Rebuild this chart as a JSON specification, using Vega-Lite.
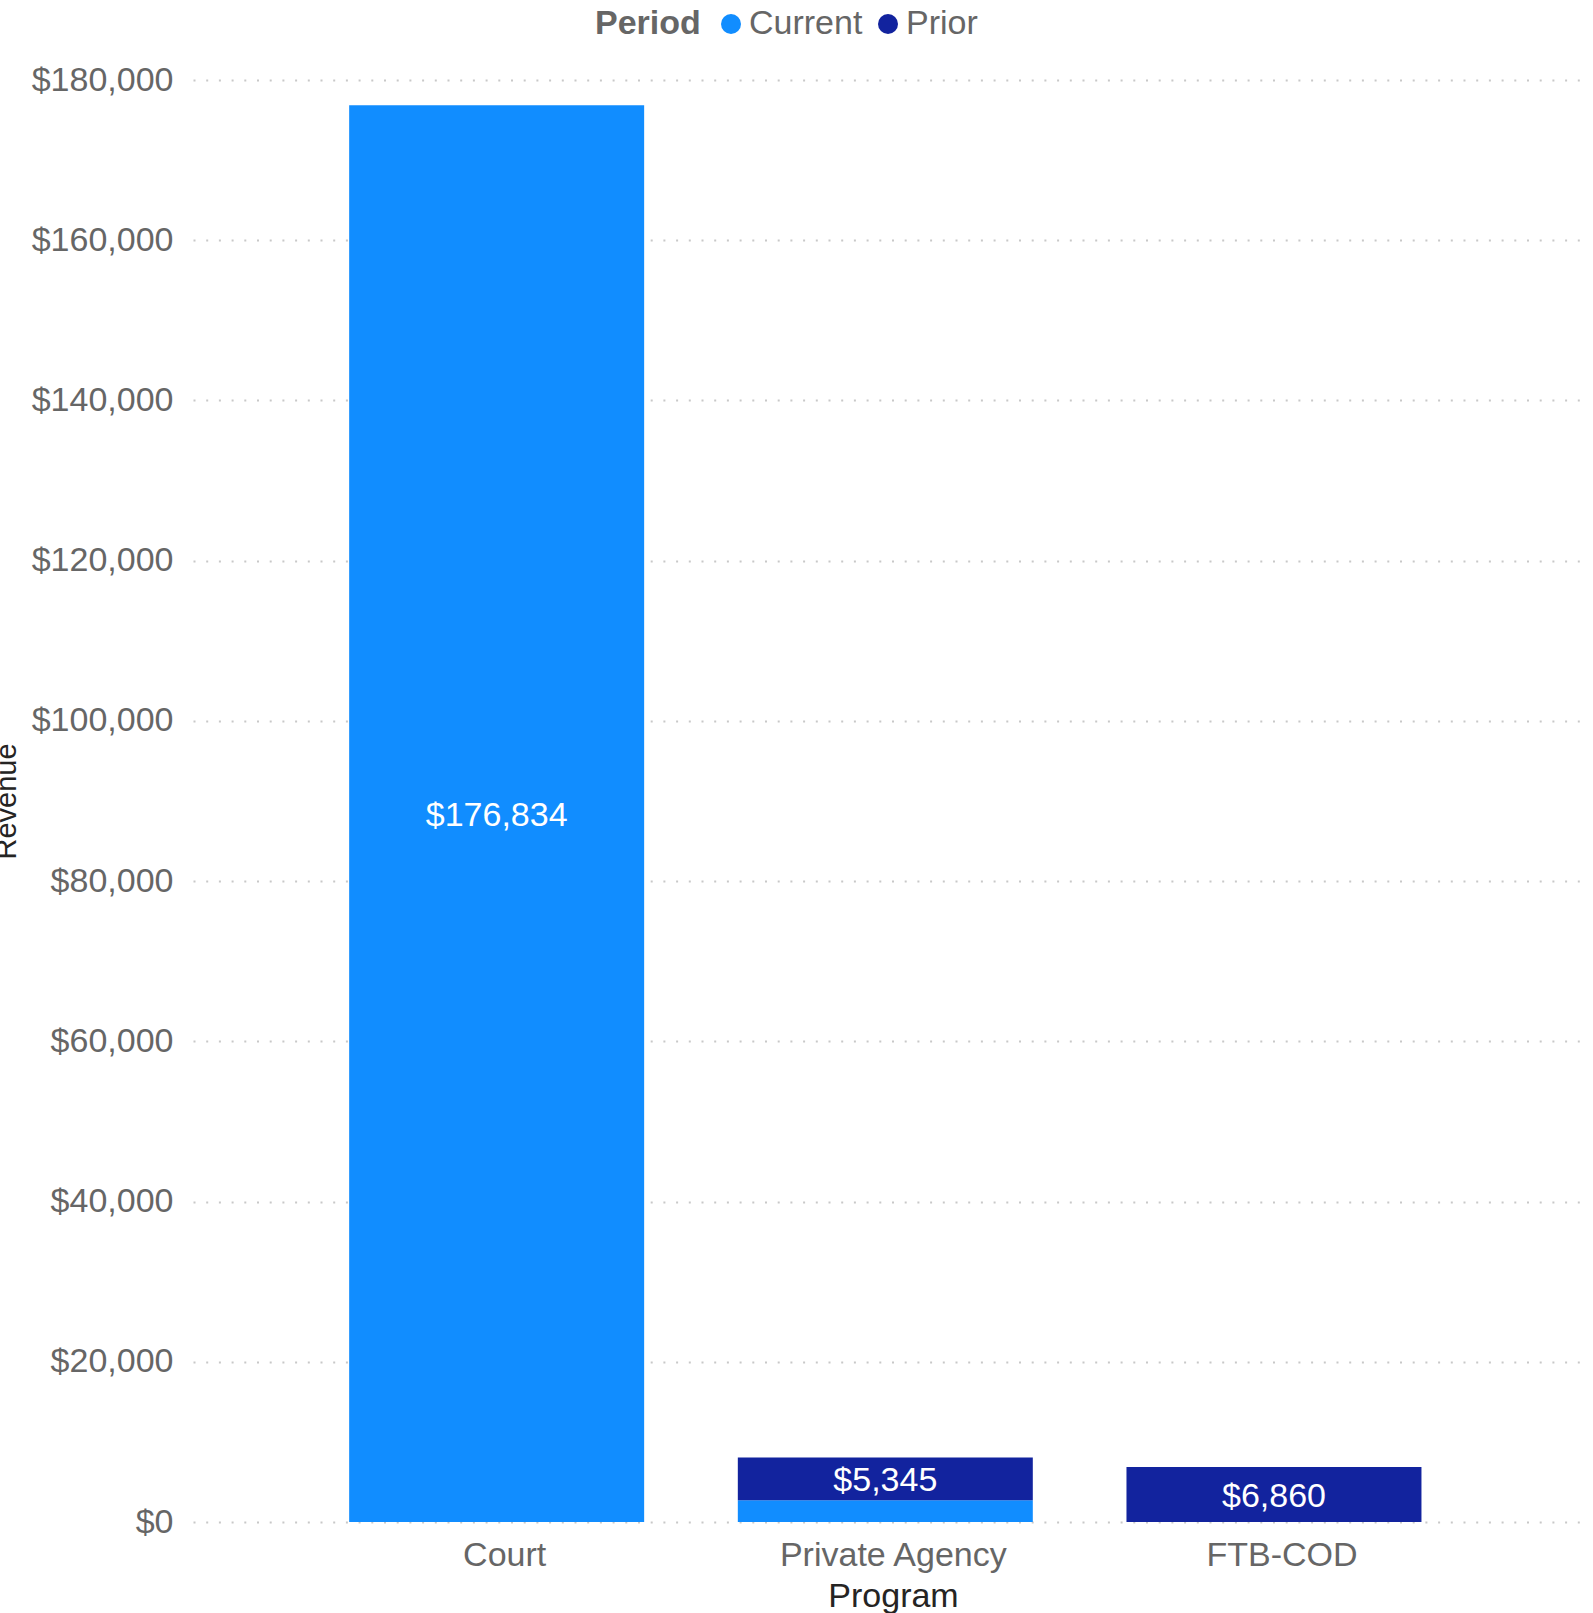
{
  "$schema": "https://vega.github.io/schema/vega-lite/v6.json",
  "autosize": {"type": "none"},
  "padding": {"left": 193, "top": 80, "right": 9, "bottom": 91},
  "width": 1391,
  "height": 1442,
  "background": "white",
  "config": {
    "view": {"stroke": null},
    "font": "Liberation Sans"
  },
  "data": {
    "values": [
      {"Program": "Court", "Period": "Current", "Revenue": 176834},
      {"Program": "Private Agency", "Period": "Current", "Revenue": 2710},
      {"Program": "Private Agency", "Period": "Prior", "Revenue": 5345},
      {"Program": "FTB-COD", "Period": "Prior", "Revenue": 6860}
    ]
  },
  "encoding": {
    "x": {
      "field": "Program",
      "type": "nominal",
      "sort": ["Court", "Private Agency", "FTB-COD"],
      "scale": {"paddingInner": 0.241, "paddingOuter": 0.41, "align": 0.49},
      "axis": {
        "title": "Program",
        "labelAngle": 0,
        "labelLimit": 0,
        "labelOffset": 8,
        "labelFont": "Liberation Sans",
        "labelFontSize": 34,
        "labelColor": "#666666",
        "labelPadding": 16,
        "ticks": false,
        "domain": false,
        "titleFont": "Liberation Sans",
        "titleFontSize": 34,
        "titleFontWeight": "normal",
        "titleColor": "#252423",
        "titleBaseline": "alphabetic",
        "titleAlign": "center",
        "titleX": 700,
        "titleY": 84
      }
    },
    "y": {
      "field": "Revenue",
      "type": "quantitative",
      "scale": {"domain": [0, 180000], "nice": false},
      "axis": {
        "title": "Revenue",
        "values": [0, 20000, 40000, 60000, 80000, 100000, 120000, 140000, 160000, 180000],
        "format": "$,.0f",
        "labelFont": "Liberation Sans",
        "labelFontSize": 34,
        "labelColor": "#666666",
        "labelPadding": 20,
        "ticks": false,
        "domain": false,
        "grid": true,
        "gridColor": "#C8C8C8",
        "gridDash": [2, 10.7],
        "gridWidth": 2,
        "titleFont": "Liberation Sans",
        "titleFontSize": 29,
        "titleFontWeight": "normal",
        "titleColor": "#252423",
        "titleAngle": -90,
        "titleAlign": "center",
        "titleBaseline": "alphabetic",
        "titleX": -178,
        "titleY": 721
      }
    },
    "order": {"field": "Period", "sort": "ascending"},
    "color": {
      "field": "Period",
      "type": "nominal",
      "scale": {"domain": ["Current", "Prior"], "range": ["#118DFF", "#12239E"]},
      "legend": {
        "orient": "none",
        "direction": "horizontal",
        "legendX": 402,
        "legendY": -73,
        "title": "Period",
        "titleOrient": "left",
        "titleFont": "Liberation Sans",
        "titleFontSize": 34,
        "titleFontWeight": "bold",
        "titleColor": "#666666",
        "titlePadding": 13,
        "labelFont": "Liberation Sans",
        "labelFontSize": 34,
        "labelColor": "#666666",
        "labelOffset": 1,
        "symbolType": "circle",
        "symbolSize": 400,
        "symbolStrokeWidth": 0,
        "columnPadding": 8
      }
    }
  },
  "layer": [
    {"mark": {"type": "bar"}},
    {
      "mark": {"type": "text", "color": "white", "fontSize": 34, "font": "Liberation Sans", "baseline": "middle", "align": "center", "dy": 2},
      "encoding": {
        "y": {"field": "Revenue", "type": "quantitative", "stack": "zero", "bandPosition": 0.5},
        "text": {"field": "Revenue", "type": "quantitative", "format": "$,.0f"},
        "color": {"value": "white"},
        "opacity": {"condition": {"test": "datum.Revenue < 4000", "value": 0}, "value": 1}
      }
    }
  ]
}
